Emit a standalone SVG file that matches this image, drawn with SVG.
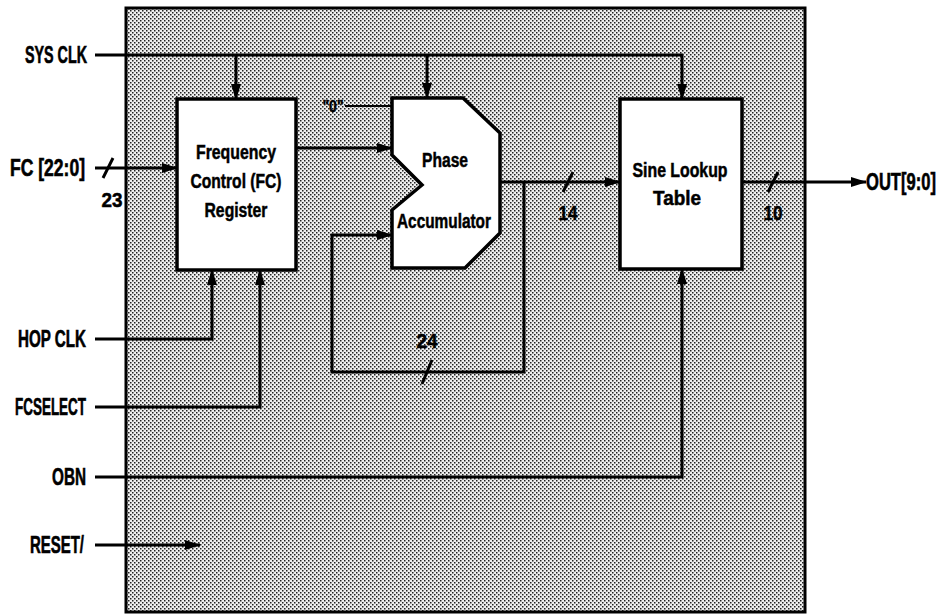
<svg xmlns="http://www.w3.org/2000/svg" width="942" height="614" viewBox="0 0 942 614">
<style>
.lbl{font-family:"Liberation Sans",Arial,sans-serif;font-weight:bold;font-size:23px;fill:#000;stroke:#000;stroke-width:0.6}
.nt{font-family:"Liberation Sans",Arial,sans-serif;font-weight:bold;font-size:20px;fill:#000;stroke:#000;stroke-width:0.5;text-anchor:middle}
.num{font-family:"Liberation Sans",Arial,sans-serif;font-weight:bold;font-size:21px;fill:#000;stroke:#000;stroke-width:0.5;text-anchor:middle}
.w{fill:none;stroke:#000;stroke-width:3}
.thin{fill:none;stroke:#000;stroke-width:2}
.box{fill:#fff;stroke:#000;stroke-width:3.5}
.arr{marker-end:url(#ah)}
</style>
<defs>
<pattern id="dots" width="4" height="4" patternUnits="userSpaceOnUse">
<rect width="4" height="4" fill="#efefef"/>
<rect x="0" y="0" width="1.5" height="1.5" fill="#222"/>
<rect x="2" y="2" width="1.5" height="1.5" fill="#222"/>
</pattern>
<marker id="ah" markerWidth="16" markerHeight="10" refX="15" refY="5" orient="auto" markerUnits="userSpaceOnUse">
<path d="M0,0 L16,5 L0,10 z" fill="#000"/>
</marker>
</defs>
<rect width="942" height="614" fill="#fff"/>
<g id="chip">
<rect x="126" y="8" width="679" height="604" fill="url(#dots)" stroke="#000" stroke-width="3"/>
</g>
<g id="fc_register">
<rect class="box" x="177" y="99" width="119" height="171"/>
<text class="nt" x="236" y="159" textLength="80" lengthAdjust="spacingAndGlyphs">Frequency</text>
<text class="nt" x="236" y="188" textLength="91" lengthAdjust="spacingAndGlyphs">Control (FC)</text>
<text class="nt" x="236" y="217" textLength="63" lengthAdjust="spacingAndGlyphs">Register</text>
</g>
<g id="phase_accumulator">
<path class="box" d="M392,98 H463 L500,133 V233 L465,268 H392 V210 L422,185 L392,155 Z"/>
<text class="nt" x="445" y="167" textLength="46" lengthAdjust="spacingAndGlyphs">Phase</text>
<text class="nt" x="444" y="228" textLength="94" lengthAdjust="spacingAndGlyphs">Accumulator</text>
</g>
<g id="sine_lut">
<rect class="box" x="620" y="99" width="122" height="170"/>
<text class="nt" x="680" y="177" textLength="95" lengthAdjust="spacingAndGlyphs">Sine Lookup</text>
<text class="nt" x="677" y="205" textLength="48" lengthAdjust="spacingAndGlyphs">Table</text>
</g>
<g id="labels">
<text class="lbl" x="25" y="63" textLength="62" lengthAdjust="spacingAndGlyphs">SYS CLK</text>
<text class="lbl" x="10" y="176" textLength="75" lengthAdjust="spacingAndGlyphs">FC [22:0]</text>
<text class="lbl" x="18" y="347" textLength="68" lengthAdjust="spacingAndGlyphs">HOP CLK</text>
<text class="lbl" x="15" y="415" textLength="71" lengthAdjust="spacingAndGlyphs">FCSELECT</text>
<text class="lbl" x="52" y="485" textLength="34" lengthAdjust="spacingAndGlyphs">OBN</text>
<text class="lbl" x="30" y="553" textLength="54" lengthAdjust="spacingAndGlyphs">RESET/</text>
<text class="lbl" transform="translate(866,190) scale(0.72,1)" x="0" y="0">OUT[9:0]</text>
<text class="num" x="112" y="207" textLength="21" lengthAdjust="spacingAndGlyphs">23</text>
<text class="num" x="568" y="220" textLength="19" lengthAdjust="spacingAndGlyphs">14</text>
<text class="num" x="773" y="220" textLength="19" lengthAdjust="spacingAndGlyphs">10</text>
<text class="num" x="427" y="348" textLength="21" lengthAdjust="spacingAndGlyphs">24</text>
<text class="num" x="333" y="112" style="font-size:17px" textLength="21" lengthAdjust="spacingAndGlyphs">"0"</text>
</g>
<g id="connectors">
<path class="w arr" d="M95,55 H682 V99"/>
<path class="w arr" d="M236,55 V99"/>
<path class="w arr" d="M427,55 V98"/>
<path class="w arr" d="M95,168 H177"/>
<path class="w" d="M103,178 L113,158"/>
<path class="w arr" d="M296,148 H392"/>
<path class="thin" d="M345,106 H392"/>
<path class="w arr" d="M500,182 H620"/>
<path class="w" d="M563,192 L573,172"/>
<path class="w arr" d="M524,182 V372 H332 V235 H392"/>
<path class="w" d="M422,384 L432,360"/>
<path class="w arr" d="M742,182 H866"/>
<path class="w" d="M768,192 L778,172"/>
<path class="w arr" d="M95,339 H212 V270"/>
<path class="w arr" d="M95,407 H260 V270"/>
<path class="w arr" d="M95,477 H682 V269"/>
<path class="w arr" d="M95,545 H200"/>
</g>
</svg>
